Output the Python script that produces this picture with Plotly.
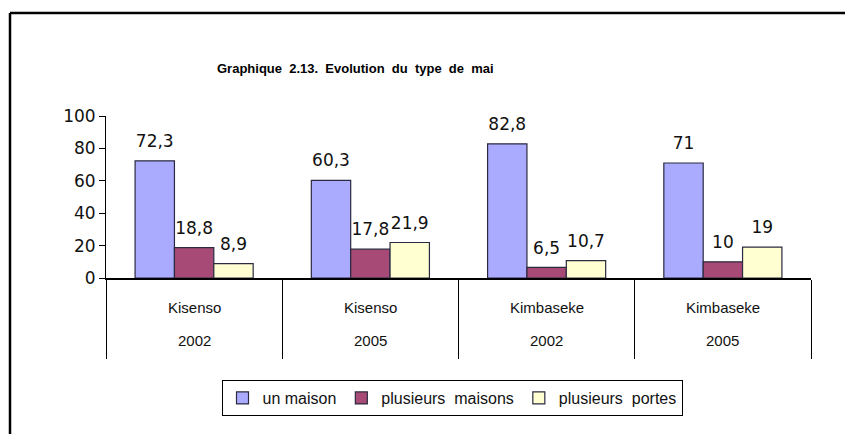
import plotly.graph_objects as go

communes = ["Kisenso", "Kisenso", "Kimbaseke", "Kimbaseke"]
annees = ["2002", "2005", "2002", "2005"]
cat_ids = ["c1", "c2", "c3", "c4"]

un_maison = [72.3, 60.3, 82.8, 71]
plusieurs_maisons = [18.8, 17.8, 6.5, 10]
plusieurs_portes = [8.9, 21.9, 10.7, 19]

lbl_un = ["72,3", "60,3", "82,8", "71"]
lbl_pm = ["18,8", "17,8", "6,5", "10"]
lbl_pp = ["8,9", "21,9", "10,7", "19"]

series = [
    ("un maison", un_maison, lbl_un, "#AAAAFF", "g1"),
    ("plusieurs  maisons", plusieurs_maisons, lbl_pm, "#A84A76", "g2"),
    ("plusieurs  portes", plusieurs_portes, lbl_pp, "#FFFFD2", "g3"),
]

# page body has an 8px margin: convert screen pixels to figure pixels
OFF = 8
W, H = 853, 434
L = 106 - OFF
T = 116 - OFF
pw, ph = 811 - 106, 278 - 116
R = W - L - pw
B = H - T - ph

def px(xs):
    return (xs - OFF - L) / pw

def py(ys):
    return (T + ph - (ys - OFF)) / ph

LABEL_GAP = 4.3  # y-units between bar top and label

fig = go.Figure()
for name, vals, lbls, col, grp in series:
    fig.add_trace(go.Bar(
        x=cat_ids, y=vals, name=name, offsetgroup=grp,
        marker=dict(color=col, line=dict(color="#2a2a40", width=1.2)),
        hoverinfo="y",
    ))
for name, vals, lbls, col, grp in series:
    fig.add_trace(go.Bar(
        x=cat_ids, y=[LABEL_GAP] * len(vals), base=vals, offsetgroup=grp,
        text=lbls, textposition="outside", constraintext="none", cliponaxis=False,
        textfont=dict(family="DejaVu Sans", size=17, color="#111111"),
        marker=dict(color="rgba(0,0,0,0)", line=dict(width=0)),
        showlegend=False, hoverinfo="skip",
    ))

annotations = []
for cid, c, a in zip(cat_ids, communes, annees):
    annotations.append(dict(x=cid, xref="x", y=py(307), yref="paper", text=c,
                            showarrow=False, font=dict(family="Liberation Sans", size=15, color="#111"),
                            yanchor="middle"))
    annotations.append(dict(x=cid, xref="x", y=py(340), yref="paper", text=a,
                            showarrow=False, font=dict(family="Liberation Sans", size=15, color="#111"),
                            yanchor="middle"))

annotations.append(dict(
    x=px(215), y=py(68), xref="paper", yref="paper", showarrow=False,
    text="<b>Graphique\u00a0 2.13.\u00a0 Evolution\u00a0 du\u00a0 type\u00a0 de\u00a0 mai</b>",
    font=dict(family="Liberation Sans", size=13, color="#000"),
    xanchor="left", yanchor="middle"))

fig.update_layout(
    width=W, height=H,
    margin=dict(l=L, r=R, t=T, b=B),
    paper_bgcolor="white", plot_bgcolor="white",
    barmode="group", bargap=0.33, bargroupgap=0,
    showlegend=True,
    legend=dict(orientation="h", x=px(452), y=py(380), xanchor="center", yanchor="top",
                bordercolor="#000", borderwidth=1, bgcolor="white",
                font=dict(family="Liberation Sans", size=16, color="#111"),
                itemwidth=30, tracegroupgap=0),
    xaxis=dict(type="category", tickson="boundaries", ticks="outside", ticklen=79,
               tickcolor="#000", tickwidth=1, showticklabels=False, showline=True,
               linecolor="#000", linewidth=1.5, showgrid=False, zeroline=False),
    yaxis=dict(range=[0, 100], dtick=20, ticks="outside", ticklen=6, tickcolor="#000",
               showline=True, linecolor="#000", linewidth=1, showgrid=False, zeroline=False,
               tickfont=dict(family="DejaVu Sans", size=17, color="#111")),
    annotations=annotations,
    shapes=[dict(type="line", xref="paper", yref="paper", x0=px(10), x1=px(900),
                 y0=py(13), y1=py(13), line=dict(color="#000", width=2.5)),
            dict(type="line", xref="paper", yref="paper", x0=px(10), x1=px(10),
                 y0=py(13), y1=py(480), line=dict(color="#000", width=2.5))],
)

fig.write_html("out.html")
